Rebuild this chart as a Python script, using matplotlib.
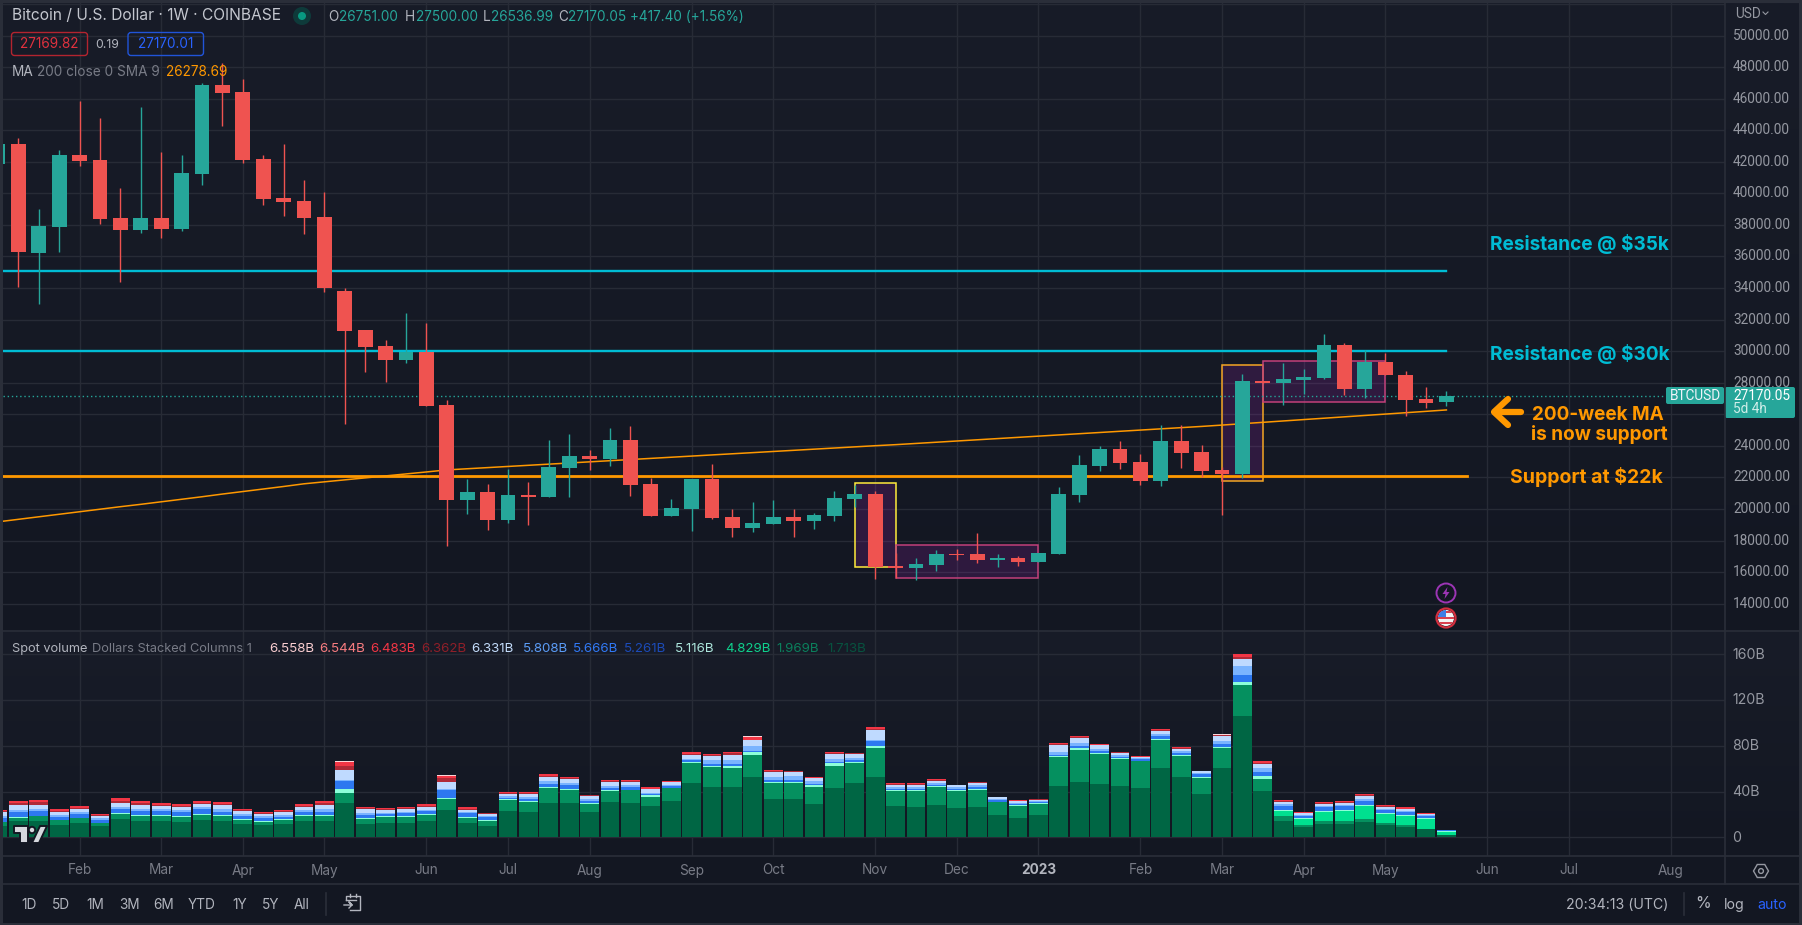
import numpy as np
import matplotlib
matplotlib.use('Agg')
import matplotlib.pyplot as plt
from matplotlib.patches import Rectangle, Circle, FancyBboxPatch, Polygon

plt.rcParams['font.family'] = ['Inter', 'DejaVu Sans']

# weekly candles, bar -1 is the one cut off at the left edge
opens = [41880,
         43125, 36220, 37868, 42430, 42112, 38437, 37677, 38437, 37740, 41225,
         46864, 46421, 42175, 39704, 39514, 38500, 33818, 31343, 30329, 29442,
         29970, 26591, 20572, 21079, 19305, 20889, 20762, 22600, 23360, 23170,
         24374, 21586, 19558, 20002, 21903, 19495, 18798, 19051, 19495, 19241,
         19558, 20635, 20952, 16390, 16264, 16453, 17151, 17151, 16770, 16897,
         16644, 17151, 20889, 22726, 23803, 22980, 21776, 24310, 23613, 22473,
         22219, 28112, 27985, 28175, 28302, 30393, 27605, 29316, 28492, 26971,
         26751]
closes = [43125,
          36304, 37930, 42430, 42048, 38374, 37677, 38437, 37740, 41288, 46864,
          46357, 42112, 39641, 39450, 38437, 34002, 31280, 30266, 29442, 29970,
          26528, 20572, 21079, 19305, 20889, 20762, 22663, 23360, 23170, 24374,
          21522, 19558, 20065, 21903, 19431, 18798, 19115, 19495, 19241, 19622,
          20699, 20952, 16327, 16264, 16517, 17151, 17088, 16770, 16897, 16644,
          17214, 20952, 22790, 23803, 22916, 21776, 24310, 23550, 22410, 22219,
          28112, 27985, 28239, 28365, 30393, 27605, 29316, 28492, 26908, 26718,
          27170]
highs = [43300,
         43485, 39008, 42745, 45850, 44773, 40338, 45470, 42619, 42430, 46970,
         48237, 47223, 42430, 43125, 40845, 40085, 34000, 31343, 30710, 32420,
         31787, 26908, 21903, 21586, 22536, 21713, 24374, 24754, 23740, 25134,
         25261, 21966, 20635, 21903, 22853, 20002, 20445, 20572, 20002, 19748,
         21142, 21522, 21142, 17214, 16897, 17404, 17467, 18481, 17151, 17024,
         17214, 21396, 23423, 23994, 24310, 23487, 25324, 25324, 24057, 22663,
         28555, 28112, 29252, 28872, 31090, 30519, 30076, 29886, 28745, 27732,
         27500]
lows = [41700,
        34086, 33009, 36304, 41752, 38057, 34382, 37487, 37170, 37613, 40528,
        44266, 41922, 39261, 38563, 37423, 33749, 25387, 28682, 28048, 29252,
        26528, 17657, 19685, 18671, 19115, 18988, 20762, 20762, 22473, 22726,
        20826, 19558, 19558, 18608, 19368, 18228, 18544, 19051, 18228, 18734,
        19241, 20128, 15566, 15651, 15503, 16073, 16770, 16580, 16327, 16390,
        16644, 17151, 20445, 22410, 22536, 21522, 21459, 22600, 22029, 19622,
        21966, 27985, 26591, 27288, 28239, 27225, 27035, 28492, 25894, 26401,
        26537]
ma200 = [19190,
         19350, 19510, 19670, 19830, 19990, 20150, 20300, 20460, 20620, 20780,
         20950, 21110, 21270, 21430, 21600, 21725, 21850, 21975, 22100, 22225,
         22350, 22480, 22553, 22626, 22699, 22772, 22845, 22918, 22991, 23064,
         23137, 23210, 23283, 23356, 23429, 23502, 23575, 23648, 23721, 23794,
         23867, 23940, 24013, 24080, 24157, 24234, 24311, 24388, 24465, 24542,
         24619, 24696, 24773, 24850, 24927, 25004, 25081, 25158, 25235, 25320,
         25407, 25494, 25581, 25668, 25755, 25842, 25929, 26016, 26103, 26190,
         26279]

# spot volume by exchange group, billions, bottom of the stack first
vol_dark = [9.6,
            14, 14, 11.1, 12.8, 10.2, 16.3, 14.6, 14.6, 13.7, 15.4,
            14.6, 12, 11.1, 12, 14.6, 14.6, 30.3, 12, 12.8, 12.8,
            14.6, 24.2, 12.8, 10.2, 23.3, 22.4, 30.3, 30.3, 22.4, 31.2,
            30.3, 27.1, 31.5, 47.2, 43.7, 43.7, 53.3, 33.2, 33.2, 28.9,
            42.9, 47.2, 53.3, 27.1, 26.2, 28, 25.4, 26.2, 19.8, 17.2,
            19.8, 45.2, 48.7, 46.9, 45.2, 43.4, 60.9, 53.1, 38.2, 60.9,
            106.4, 40.8, 14.6, 9.3, 12, 12, 13.7, 11.1, 9.3, 7.3,
            2.3]
vol_mid = [4.1,
           3.2, 5, 4.4, 4.4, 2.6, 4.4, 4.4, 4.4, 4.4, 4.4,
           4.4, 3.5, 2.6, 3.5, 4.4, 4.4, 8.7, 4.4, 5.2, 5.2,
           5.2, 9.6, 4.4, 4.4, 9.6, 8.7, 13.1, 11.4, 7, 9.6,
           11.4, 8.7, 11.4, 17.5, 17.5, 16.6, 18.4, 14, 14, 14.9,
           19.2, 17.5, 24.5, 13.1, 14, 15.7, 15.4, 14.9, 11.4, 10.5,
           9.6, 25.4, 28, 26.2, 23.6, 23.6, 24.5, 18.4, 14, 17.5,
           27.1, 10.5, 4.4, 1.7, 2.6, 2.6, 2.6, 1.7, 1.7, 0.3,
           0]
vol_bright = [0] * 63 + [4.4, 5.2, 7.9, 8.7, 11.4, 7.3, 7.9, 8.7, 2.6]
vol_mint = [0,
            0.9, 0, 0, 0, 0, 0.9, 0.9, 0.9, 0.9, 0.9,
            0.9, 0.9, 0.9, 0.9, 0.9, 0.9, 3.5, 0.9, 0.9, 0.9,
            0.9, 0.9, 0.9, 0.9, 0.9, 0.9, 0.9, 0.9, 0.9, 0.9,
            0, 0.9, 0, 0.9, 1.7, 2.6, 2.6, 1.7, 1.7, 1.7,
            2.6, 1.7, 2.6, 0.9, 0.9, 0.9, 0.3, 1.7, 0, 0.9,
            0.9, 0.9, 1.7, 0.9, 0.9, 0, 0.9, 0.9, 0.9, 0.9,
            2.6, 2.6, 0.9, 0.9, 0.9, 0.9, 0.9, 1.5, 0.9, 0.9,
            0.9]
vol_blue = [3.5,
            3.8, 4.4, 2.3, 3.2, 2.6, 2.9, 3.2, 3.2, 3.5, 3.8,
            2.6, 2.6, 2.6, 1.7, 2.6, 2.6, 7, 2.6, 1.7, 2.6,
            2.3, 7, 3.2, 2.6, 0.9, 1.7, 2.6, 3.5, 1.7, 1.7,
            2.6, 0.9, 1.7, 1.7, 1.7, 1.7, 1.7, 1.7, 1.7, 0.9,
            1.7, 1.7, 3.5, 1.7, 1.7, 1.7, 1.7, 1.7, 1.7, 0.3,
            0.9, 0.9, 1.7, 1.7, 0.9, 1.7, 2.6, 1.7, 2.6, 2.6,
            6.1, 3.5, 3.5, 1.7, 3.2, 3.5, 3.5, 2.6, 2.6, 1.7,
            0.9]
vol_light = [1.6,
             2.1, 1.8, 1.6, 1.6, 1.2, 2, 1.9, 1.6, 1.5, 1.7,
             2.1, 1.5, 1.2, 1.5, 1.5, 2.1, 1, 1.8, 1.2, 1.2,
             1.3, 1, 1, 0.9, 1.2, 1.5, 2.6, 1.8, 1.5, 1.8,
             1.5, 1.5, 1.2, 1.5, 3.5, 3.5, 4.4, 2.6, 3.5, 2.6,
             2.6, 1.7, 1.7, 1.2, 1.2, 1.2, 1.2, 1.2, 0.9, 0.9,
             0.6, 2.6, 2.6, 1.8, 1.2, 0.6, 1.5, 1.2, 0.9, 2.4,
             7.9, 3.2, 1.2, 0.8, 1, 0.9, 1.5, 0.9, 0.9, 0.6,
             0]
vol_pale = [3.1,
            4, 3.4, 3.1, 3.1, 2.3, 3.8, 3.6, 3.1, 2.9, 3.2,
            4, 2.9, 2.3, 2.9, 2.9, 4, 8.6, 3.4, 2.3, 2.3,
            2.5, 6, 1.9, 1.7, 2.3, 2.9, 3.5, 3.4, 2.9, 3.4,
            2.9, 2.9, 2.3, 2.9, 3.5, 4.4, 4.4, 4.4, 3.5, 2.6,
            4.4, 3.5, 8, 2.3, 2.3, 2.3, 2.3, 2.3, 1.7, 1.7,
            1.1, 6.1, 4.4, 3.4, 2.3, 1.1, 2.9, 2.3, 1.7, 4.6,
            6.1, 3.8, 2.3, 1.5, 1.9, 1.7, 2.9, 1.7, 1.7, 1.1,
            0]
vol_darkred = [1,
               1.7, 2.6, 1, 1, 0.5, 2, 1.5, 1, 1, 1,
               1, 0.6, 0.6, 0.6, 1, 1.5, 3.5, 0.6, 0.6, 0.6,
               1, 2.9, 1, 0.3, 0.6, 0.6, 1, 0.6, 0.3, 0.6,
               0.6, 0.6, 0.6, 1.7, 0.6, 1.7, 0.6, 0.3, 0.3, 0.3,
               0.3, 0.3, 0.9, 0.6, 0.3, 0.3, 0, 0.3, 0, 0.3,
               0.3, 0.3, 0.5, 0.3, 0.3, 0.3, 0.3, 0.3, 0, 0.3,
               1.5, 0.8, 0.3, 0.3, 0.3, 0.3, 0.3, 0.3, 0.3, 0.3,
               0]
vol_red = [1.3,
           1.8, 1.8, 1.6, 1.6, 1.2, 2.4, 2, 1.6, 1.6, 1.6,
           1.6, 1.1, 1.1, 1.1, 1.1, 2, 3.2, 1.1, 1.1, 1.1,
           1.6, 2, 1.6, 0.6, 1.1, 1.1, 1.6, 1.1, 0.6, 1.1,
           1.1, 1.1, 1.1, 0.9, 1.1, 0.9, 2, 0.8, 0.3, 0.6,
           0.6, 0.6, 1.7, 1.1, 0.6, 0.6, 0, 0.6, 0, 0.6,
           0.6, 0.8, 1.2, 0.6, 0.6, 0.6, 0.8, 1.4, 0, 0.8,
           2.3, 1.5, 1.4, 0.9, 1.4, 1.4, 1.4, 1.4, 1.4, 0.6,
           0]
vol_pink = [0,
            0, 0, 0, 0, 0, 0, 0, 0, 0, 0,
            0, 0, 0, 0, 0.5, 0, 1.2, 0, 0, 0,
            0, 1.2, 0, 0, 0, 0, 0, 0, 0, 0,
            0, 0, 0, 0, 0, 0, 0.9, 0.6, 0.3, 0,
            0, 0, 0, 0, 0, 0, 0, 0, 0, 0,
            0, 0.6, 0, 0, 0, 0, 0.6, 0, 0, 0.6,
            0.6, 0, 0, 0, 0, 0, 0, 0, 0, 0,
            0]

month_bars = [3, 7, 11, 15, 20, 24, 28, 33, 37, 42, 46, 50, 55, 59, 63, 67, 72, 76, 81]
month_labels = ['Feb', 'Mar', 'Apr', 'May', 'Jun', 'Jul', 'Aug', 'Sep', 'Oct', 'Nov', 'Dec',
                '2023', 'Feb', 'Mar', 'Apr', 'May', 'Jun', 'Jul', 'Aug']
price_ticks = list(range(14000, 50001, 2000))
vol_ticks = [0, 40, 80, 120, 160]
vol_tick_labels = ['0', '40B', '80B', '120B', '160B']
legend_vals = ['6.558B', '6.544B', '6.483B', '6.362B', '6.331B', '5.808B',
               '5.666B', '5.261B', '5.116B', '4.829B', '1.969B', '1.713B']
legend_cols = ['#f9cdd0', '#f77c80', '#f23645', '#8f1f29', '#c3dcfb', '#5b9cf6',
               '#3179f5', '#1c4bb8', '#ace5dc', '#0fd08c', '#0b7f5c', '#07523f']
range_btns = ['1D', '5D', '1M', '3M', '6M', 'YTD', '1Y', '5Y', 'All']
range_x = [29, 61, 95, 129.5, 164, 202, 239.5, 270.5, 302]

W, H = 1802, 925
GREEN, RED = '#26a69a', '#ef5350'
CYAN, ORANGE = '#00bcd4', '#ff9800'
GRID = '#272b36'
BORDER = '#2a2e39'
GREY = '#9598a1'
DIM = '#787b86'
LIGHT = '#b2b5be'
AXIS_FONT = ['Roboto', 'DejaVu Sans']

fig = plt.figure(figsize=(W / 100, H / 100), dpi=100, facecolor=BORDER)


def pane(x0, y0, x1, y1, z):
    a = fig.add_axes([x0 / W, 1 - y1 / H, (x1 - x0) / W, (y1 - y0) / H], zorder=z)
    return a


# background layer and everything that is not data live in pixel coords
bg = pane(0, 0, W, H, 0)
bg.set_xlim(0, W)
bg.set_ylim(H, 0)
bg.axis('off')
top_c = np.array([0x18, 0x1c, 0x28]) / 255
bot_c = np.array([0x13, 0x17, 0x22]) / 255
ramp = np.linspace(0, 1, 256)[:, None, None]
grad = top_c * (1 - ramp) + bot_c * ramp
bg.imshow(grad, extent=(3, 1799, 631, 3), aspect='auto', interpolation='bilinear')
bg.imshow(grad, extent=(3, 1799, 856, 631), aspect='auto', interpolation='bilinear')
bg.add_patch(Rectangle((3, 856), 1796, 67, fc='#131722', ec='none'))
bg.set_xlim(0, W)
bg.set_ylim(H, 0)

XMIN = (3 - 18.4) / 20.4
XMAX = (1725 - 18.4) / 20.4
bars = np.arange(-1, 71)

ax = pane(3, 3, 1725, 631, 1)
ax.patch.set_alpha(0)
ax.set_xlim(XMIN, XMAX)
ax.set_ylim(12275, 52059)
ax.set_xticks(month_bars)
ax.set_yticks(price_ticks + [52000])
ax.grid(True, color=GRID, lw=1)
ax.set_axisbelow(True)
ax.tick_params(length=0, labelbottom=False, labelleft=False)
for s in ax.spines.values():
    s.set_visible(False)

# boxes behind the candles
PURPLE = (0.61, 0.15, 0.69, 0.2)
boxes = [(41, 43, 16348, 21628, '#ffeb3b'),
         (43, 50, 15650, 17700, '#c2407a'),
         (59, 61, 21797, 29105, '#f5a623'),
         (61, 67, 26800, 29358, '#c2407a')]
for x0, x1, y0, y1, ec in boxes:
    ax.add_patch(Rectangle((x0, y0), x1 - x0, y1 - y0, fc=PURPLE, ec='none', zorder=1))
    ax.add_patch(Rectangle((x0, y0), x1 - x0, y1 - y0, fc='none', ec=ec, lw=1.1, zorder=1.2))

ax.plot(bars, ma200, color=ORANGE, lw=1.1, zorder=2)
ax.plot([XMIN, 70.0], [35080, 35080], color=CYAN, lw=1.7, zorder=2)
ax.plot([XMIN, 70.0], [30015, 30015], color=CYAN, lw=1.7, zorder=2)
ax.plot([XMIN, 71.0], [22100, 22100], color=ORANGE, lw=2.0, zorder=2)
ax.plot([XMIN, 81.0], [27170, 27170], color=GREEN, lw=1, ls=(0, (1, 2)), zorder=2)

o = np.array(opens)
c = np.array(closes)
cols = [GREEN if cl >= op else RED for op, cl in zip(opens, closes)]
ax.vlines(bars, lows, highs, colors=cols, lw=1.0, zorder=3)
ax.bar(bars, np.abs(c - o), bottom=np.minimum(o, c), width=0.735, color=cols, lw=0, zorder=3.1)

# volume pane
vx = pane(3, 631, 1725, 856, 1)
vx.patch.set_alpha(0)
vx.set_xlim(XMIN, XMAX)
vx.set_ylim(-16.2, 180.5)
vx.set_xticks(month_bars)
vx.set_yticks(vol_ticks)
vx.grid(True, color=GRID, lw=1)
vx.set_axisbelow(True)
vx.tick_params(length=0, labelbottom=False, labelleft=False)
for s in vx.spines.values():
    s.set_visible(False)
stack = [(vol_dark, '#006644'), (vol_mid, '#05905f'), (vol_bright, '#00e08f'), (vol_mint, '#8cffd9'),
         (vol_blue, '#2d78f0'), (vol_light, '#7ab4ff'), (vol_pale, '#bfdaff'),
         (vol_darkred, '#b02a37'), (vol_red, '#f23645'), (vol_pink, '#fbd5d8')]
base = np.zeros(len(bars))
for vals, col in stack:
    vals = np.array(vals, dtype=float)
    vx.bar(bars, vals, bottom=base, width=0.93, color=col, lw=0)
    base = base + vals

# chrome on top
ui = pane(0, 0, W, H, 5)
ui.set_xlim(0, W)
ui.set_ylim(H, 0)
ui.axis('off')
ui.patch.set_alpha(0)


def txt(x, y, s, color=LIGHT, size=10, ha='left', **kw):
    ui.text(x, y, s, color=color, fontsize=size, ha=ha, va='center', **kw)


# pane borders
ui.plot([3, 1799], [631, 631], color=BORDER, lw=1.2)
ui.plot([3, 1799], [856, 856], color=BORDER, lw=1.2)
ui.plot([3, 1799], [884, 884], color=BORDER, lw=1.2)
ui.plot([1725, 1725], [3, 884], color=BORDER, lw=1.2)

# header
txt(12, 16, 'Bitcoin / U.S. Dollar · 1W · COINBASE', color='#c4c7cf', size=11.2)
ui.add_patch(Circle((302, 16), 9, fc='#0e3a3a', ec='none'))
ui.add_patch(Circle((302, 16), 4, fc='#089981', ec='none'))
for x, lab, x2, val in [(328, 'O', 339, '26751.00'), (405, 'H', 416, '27500.00'),
                        (483, 'L', 491, '26536.99'), (558, 'C', 568, '27170.05 +417.40 (+1.56%)')]:
    txt(x, 17, lab, color=LIGHT, size=9.8)
    txt(x2, 17, val, color=GREEN, size=9.8)

ui.add_patch(FancyBboxPatch((11.5, 32.5), 76, 23, boxstyle='round,pad=0,rounding_size=3', fc='none', ec='#b3242f', lw=1))
txt(49.5, 44.5, '27169.82', color='#e0313e', size=9.8, ha='center')
txt(107.5, 45, '0.19', color=LIGHT, size=8.8, ha='center')
ui.add_patch(FancyBboxPatch((128, 32.5), 75.5, 23, boxstyle='round,pad=0,rounding_size=3', fc='none', ec='#2154d8', lw=1))
txt(166, 44.5, '27170.01', color='#2962ff', size=9.8, ha='center')
txt(12, 72.5, 'MA', color=LIGHT, size=9.8)
txt(36.7, 72.5, '200 close 0 SMA 9', color=DIM, size=9.8)
txt(165.7, 72.5, '26278.69', color=ORANGE, size=9.8)

# volume header
txt(12, 649, 'Spot volume', color=LIGHT, size=9.2)
txt(92, 649, 'Dollars Stacked Columns 1', color=DIM, size=9.2)
leg_x = [269, 319.6, 370.5, 421, 471.5, 522.8, 573, 623.7, 674.6, 725.5, 776.8, 827.7]
for x, s, col in zip(leg_x, legend_vals, legend_cols):
    txt(x, 649, s, color=col, size=9.6)

# annotations
txt(1490, 244, 'Resistance @ $35k', color=CYAN, size=13.7, weight='bold')
txt(1490, 354, 'Resistance @ $30k', color=CYAN, size=13.7, weight='bold')
txt(1532, 415, '200-week MA', color=ORANGE, size=13.6, weight='bold')
txt(1531, 435, 'is now support', color=ORANGE, size=13.7, weight='bold')
txt(1510, 477, 'Support at $22k', color=ORANGE, size=14, weight='bold')
ui.plot([1495, 1521], [412, 412], color=ORANGE, lw=4.5, solid_capstyle='round')
ui.plot([1508, 1494, 1508], [399, 412, 425], color=ORANGE, lw=4.5, solid_capstyle='round', solid_joinstyle='round')

# price axis
txt(1735, 13.5, 'USD', color=GREY, size=9.8, family=AXIS_FONT)
ui.plot([1763, 1765.5, 1768], [12, 14.5, 12], color=GREY, lw=0.8)
for p in price_ticks:
    y = 35.5 + (50000 - p) * 0.015785
    if p == 26000:
        continue
    txt(1733, y, f'{p}.00', color=GREY, size=9.8, family=AXIS_FONT)
for v, s in zip(vol_ticks, vol_tick_labels):
    y = 837.5 - v * 1.1437
    txt(1732, y, s, color=GREY, size=10.2)

# last price tags
ui.add_patch(FancyBboxPatch((1666, 387), 58, 17, boxstyle='round,pad=0,rounding_size=2', fc=GREEN, ec='none'))
txt(1695, 395.5, 'BTCUSD', color='#f0f3fa', size=9.8, ha='center', family=AXIS_FONT)
ui.add_patch(FancyBboxPatch((1725, 387), 70, 31, boxstyle='round,pad=0,rounding_size=2', fc=GREEN, ec='none'))
txt(1733, 395.5, '27170.05', color='#ffffff', size=9.8, family=AXIS_FONT)
txt(1733, 409, '5d 4h', color='#cfeee9', size=9.8, family=AXIS_FONT)

# time axis
for b, s in zip(month_bars, month_labels):
    x = 18.4 + 20.4 * b
    if s == '2023':
        txt(x, 870.5, s, color='#b2b5be', size=9.8, ha='center', weight='bold')
    else:
        txt(x, 870.5, s, color=DIM, size=9.8, ha='center')

# bottom toolbar
for x, s in zip(range_x, range_btns):
    txt(x, 905, s, color=LIGHT, size=9.8, ha='center')
ui.plot([326.4, 326.4], [893, 915], color=BORDER, lw=1.2)
ui.plot([346, 346, 360, 360, 350], [900, 896, 896, 910, 910], color=LIGHT, lw=1)
ui.plot([346, 356], [900, 900], color=LIGHT, lw=1)
ui.plot([344, 352, 349, 352, 349], [905, 905, 902, 905, 908], color=LIGHT, lw=1)
ui.plot([350, 350], [894, 897], color=LIGHT, lw=1)
ui.plot([356, 356], [894, 897], color=LIGHT, lw=1)
txt(1566, 905, '20:34:13 (UTC)', color=LIGHT, size=10.2)
ui.plot([1684, 1684], [893, 915], color=BORDER, lw=1.2)
txt(1703, 904, '%', color=LIGHT, size=11.5, ha='center')
txt(1734, 905, 'log', color=LIGHT, size=10.2, ha='center')
txt(1772, 905, 'auto', color='#2962ff', size=10.2, ha='center')
hexa = [(1761 + 7.5 * np.cos(a), 871 + 7.5 * np.sin(a)) for a in np.deg2rad(np.arange(0, 360, 60))]
ui.add_patch(Polygon(hexa, closed=True, fc='none', ec=GREY, lw=1))
ui.add_patch(Circle((1761, 871), 2.4, fc='none', ec=GREY, lw=1))

# tradingview logo
logo_c = dict(fc='#d6d8de', ec='#131722', lw=1.4, joinstyle='round')
ui.add_patch(Polygon([(14, 826), (28, 826), (28, 843), (20, 843), (20, 833), (14, 833)], closed=True, **logo_c))
ui.add_patch(Circle((32, 830), 3.2, fc='#d6d8de', ec='#131722', lw=1.4))
ui.add_patch(Polygon([(32, 843), (40, 826), (47, 826), (39, 843)], closed=True, **logo_c))

# event icons under the last candle
ui.add_patch(Circle((1446, 593), 9.5, fc='#131722', ec='#9c35b5', lw=1.4))
ui.add_patch(Polygon([(1447.5, 587), (1442.5, 594), (1445.5, 594), (1444.5, 599), (1449.5, 592), (1446.5, 592)],
                     closed=True, fc='#9c35b5', ec='none'))
flag = Circle((1446, 618), 8, transform=ui.transData)
r = ui.add_patch(Rectangle((1436, 608), 20, 20, fc='#f4f4f4', ec='none'))
r.set_clip_path(flag)
for yy in (611, 616.5, 622):
    r = ui.add_patch(Rectangle((1436, yy), 20, 2.2, fc='#d9414f', ec='none'))
    r.set_clip_path(flag)
r = ui.add_patch(Rectangle((1436, 608), 10, 9, fc='#3d7ee6', ec='none'))
r.set_clip_path(flag)
ui.add_patch(Circle((1446, 618), 9.5, fc='none', ec='#d32f3f', lw=1.6))

fig.savefig('out.png', dpi=100, facecolor=fig.get_facecolor())
